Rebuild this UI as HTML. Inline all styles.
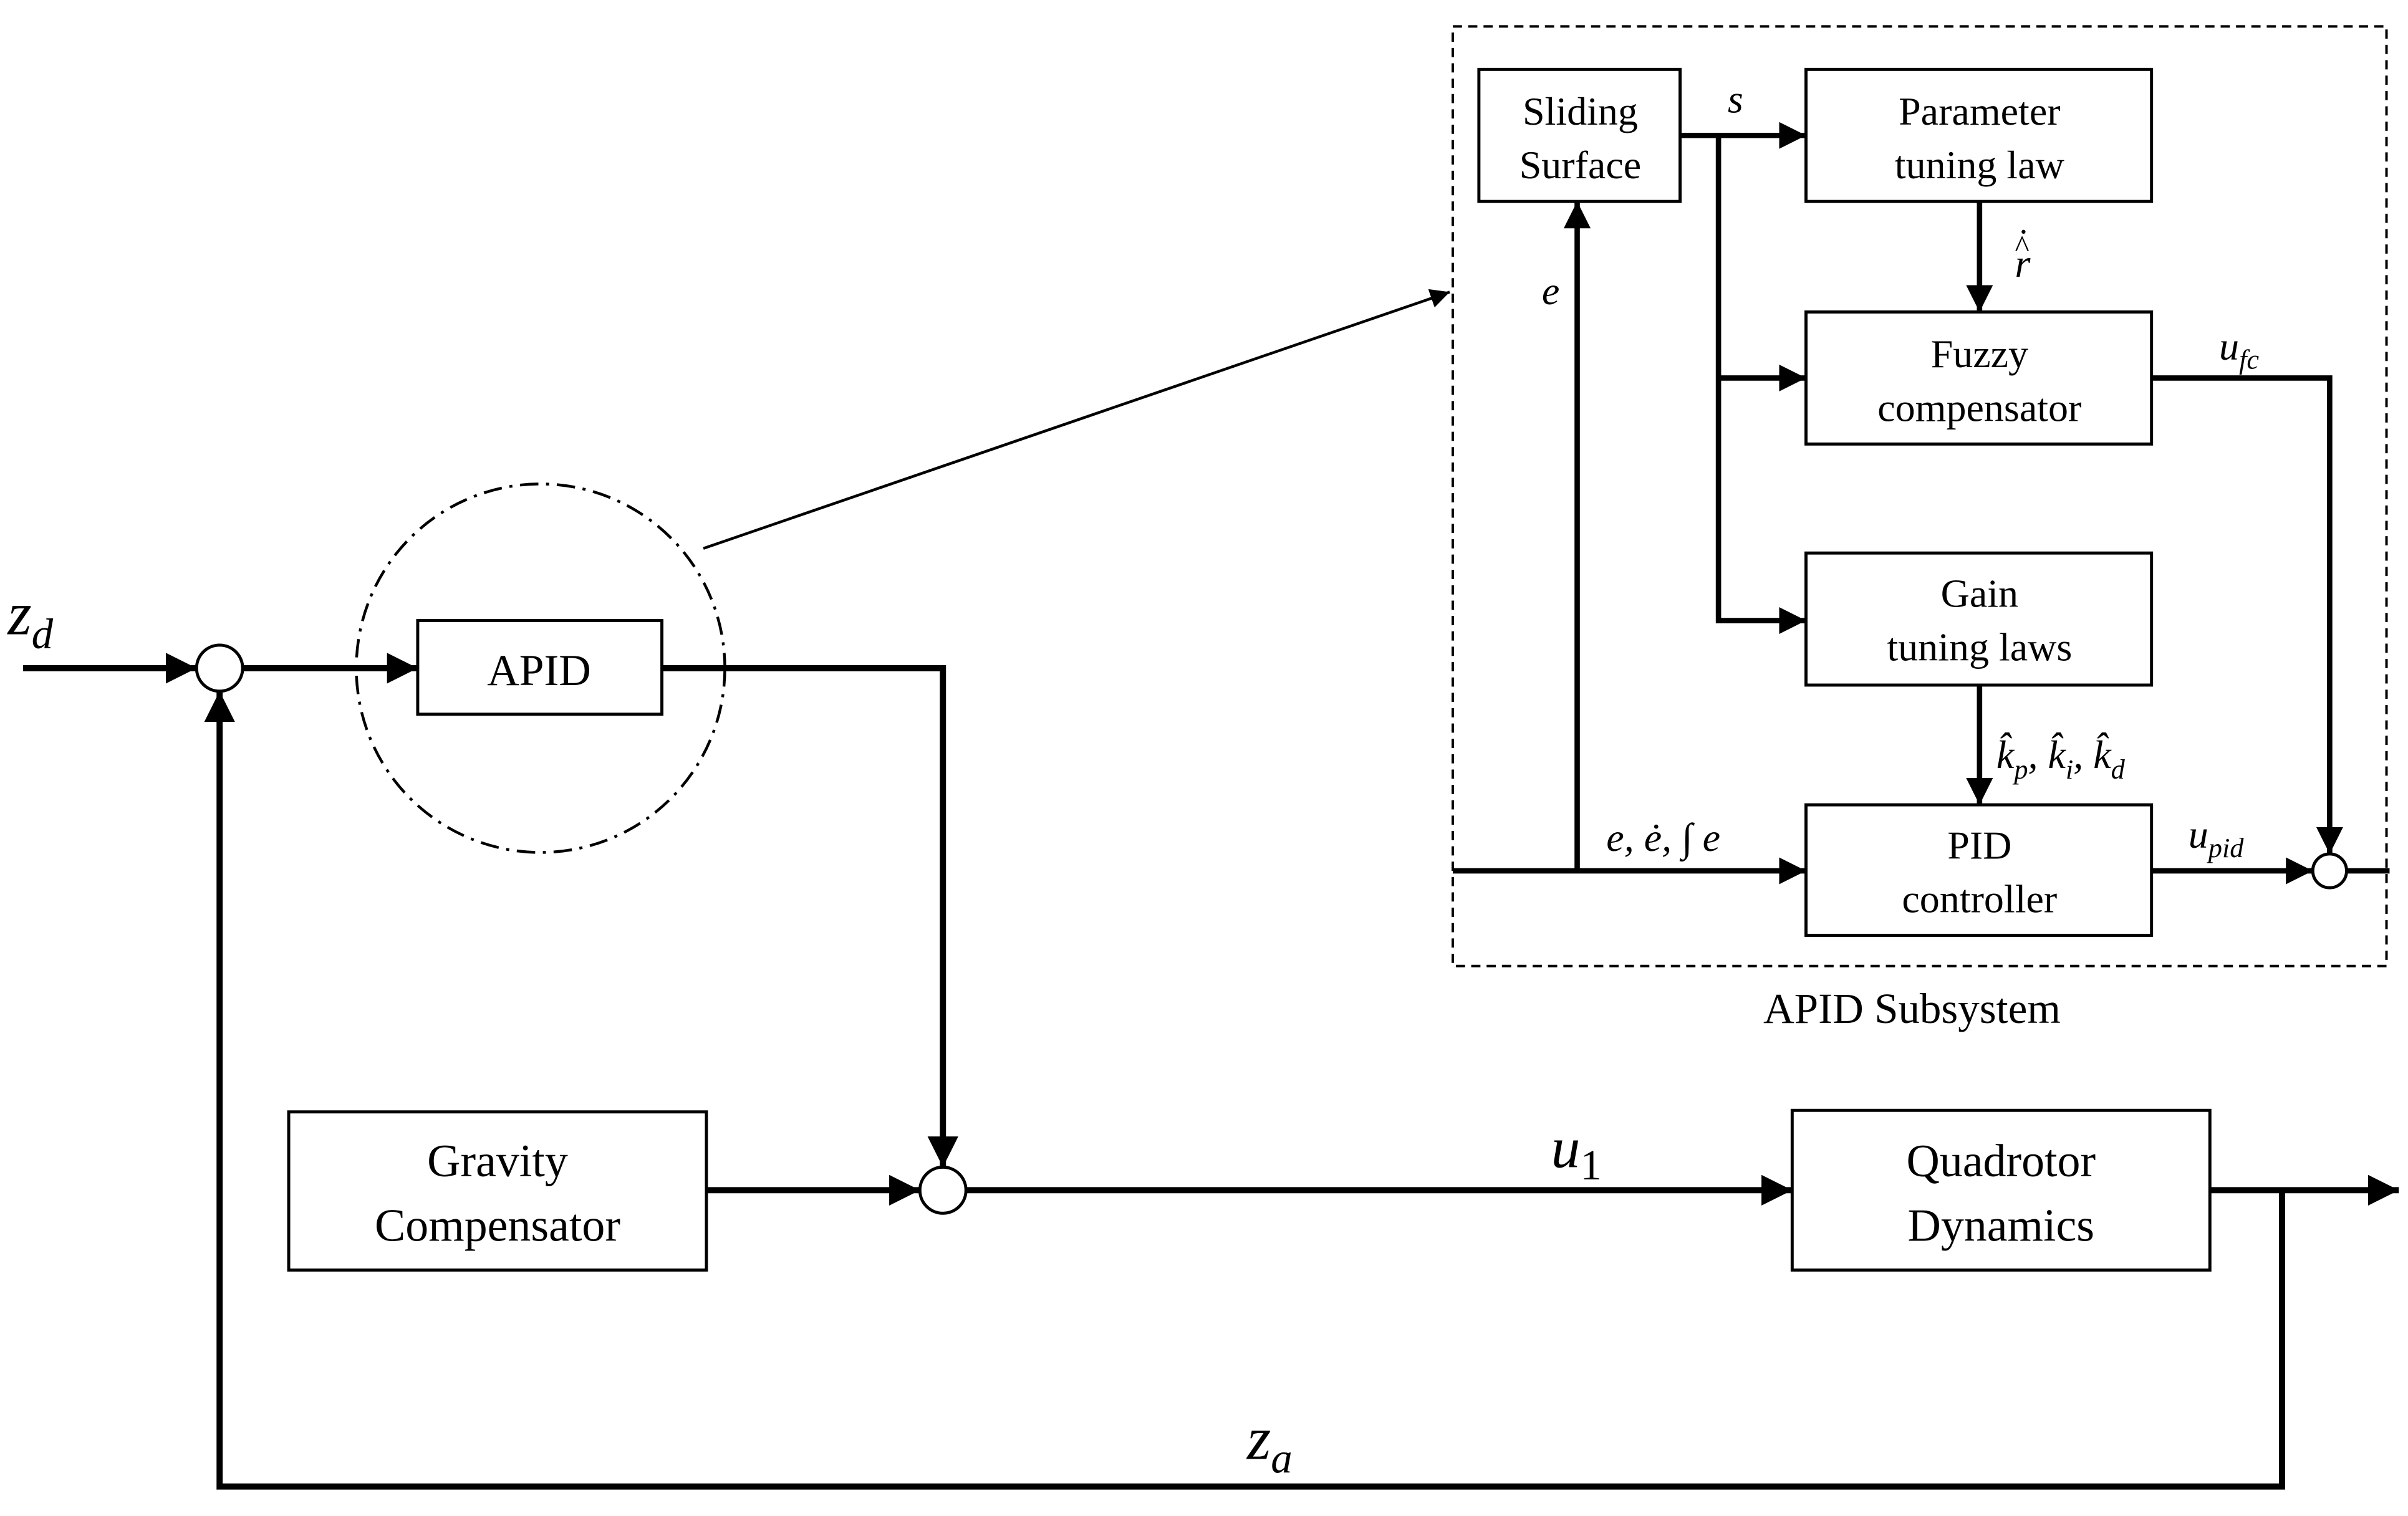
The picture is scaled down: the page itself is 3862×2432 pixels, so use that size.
<!DOCTYPE html>
<html><head><meta charset="utf-8"><style>html,body{margin:0;padding:0;background:#fff}svg{display:block}</style></head><body>
<svg xmlns="http://www.w3.org/2000/svg" width="3862" height="2432" viewBox="0 0 1568 987" font-family="Liberation Serif, serif">
<defs>
<marker id="a" viewBox="0 0 10 10" refX="10" refY="5" markerWidth="5" markerHeight="5" orient="auto" markerUnits="strokeWidth"><path d="M0,0 L10,5 L0,10 z" fill="#000"/></marker>
<marker id="b" viewBox="0 0 10 10" refX="10" refY="5" markerWidth="7" markerHeight="7" orient="auto" markerUnits="strokeWidth"><path d="M0,0 L10,5 L0,10 z" fill="#000"/></marker>
</defs>
<rect width="1568" height="987" fill="#fff"/>
<g fill="none" stroke="#000">
<rect x="946" y="17" width="608" height="612" stroke-width="1.6" stroke-dasharray="6,4"/>
<g stroke-width="2">
<rect x="963" y="45" width="131" height="86"/>
<rect x="1176" y="45" width="225" height="86"/>
<rect x="1176" y="203" width="225" height="86"/>
<rect x="1176" y="360" width="225" height="86"/>
<rect x="1176" y="524" width="225" height="85"/>
<circle cx="1517" cy="567" r="11"/>
</g>
<g stroke-width="3.5">
<line x1="1094" y1="88" x2="1176" y2="88" marker-end="url(#a)"/>
<polyline points="1119,88 1119,404 1176,404" marker-end="url(#a)"/>
<line x1="1119" y1="246" x2="1176" y2="246" marker-end="url(#a)"/>
<line x1="1289" y1="131" x2="1289" y2="203" marker-end="url(#a)"/>
<line x1="1289" y1="446" x2="1289" y2="524" marker-end="url(#a)"/>
<line x1="946" y1="567" x2="1176" y2="567" marker-end="url(#a)"/>
<line x1="1027" y1="567" x2="1027" y2="131" marker-end="url(#a)"/>
<line x1="1401" y1="567" x2="1506" y2="567" marker-end="url(#a)"/>
<polyline points="1401,246 1517,246 1517,556" marker-end="url(#a)"/>
<line x1="1528" y1="567" x2="1556" y2="567"/>
</g>
<g stroke-width="2">
<rect x="272" y="404" width="159" height="61"/>
<rect x="188" y="724" width="272" height="103"/>
<rect x="1167" y="723" width="272" height="104"/>
<circle cx="143" cy="435" r="15"/>
<circle cx="614" cy="775" r="15"/>
</g>
<circle cx="352" cy="435" r="120" stroke-width="1.8" stroke-dasharray="12,5,2,5"/>
<line x1="458" y1="357" x2="944" y2="190" stroke-width="1.8" marker-end="url(#b)"/>
<g stroke-width="4">
<line x1="15" y1="435" x2="128" y2="435" marker-end="url(#a)"/>
<line x1="158" y1="435" x2="272" y2="435" marker-end="url(#a)"/>
<polyline points="431,435 614,435 614,760" marker-end="url(#a)"/>
<line x1="460" y1="775" x2="599" y2="775" marker-end="url(#a)"/>
<line x1="629" y1="775" x2="1167" y2="775" marker-end="url(#a)"/>
<line x1="1439" y1="775" x2="1562" y2="775" marker-end="url(#a)"/>
<polyline points="1486,775 1486,968 143,968 143,450" marker-end="url(#a)"/>
</g>
</g>
<g font-size="26" text-anchor="middle" fill="#000">
<text x="1029" y="81">Sliding</text><text x="1029" y="116">Surface</text>
<text x="1289" y="81">Parameter</text><text x="1289" y="116">tuning law</text>
<text x="1289" y="239">Fuzzy</text><text x="1289" y="274">compensator</text>
<text x="1289" y="395">Gain</text><text x="1289" y="430">tuning laws</text>
<text x="1289" y="559">PID</text><text x="1289" y="594">controller</text>
<text x="1245" y="666" font-size="28">APID Subsystem</text>
<text x="351" y="446" font-size="29">APID</text>
<text x="324" y="766" font-size="30">Gravity</text><text x="324" y="808" font-size="30">Compensator</text>
<text x="1303" y="766" font-size="30">Quadrotor</text><text x="1303" y="808" font-size="30">Dynamics</text>
</g>
<g font-style="italic" fill="#000" font-size="26">
<text x="1125" y="73">s</text>
<text x="1004" y="198">e</text>
<text x="1312" y="180">r</text><text x="1312" y="167" font-size="20" font-style="normal">^</text><text x="1314" y="158" font-size="22" font-style="normal">·</text>
<text x="1445" y="234">u<tspan font-size="18" dy="6">fc</tspan></text>
<text x="1046" y="554">e, ė, ∫ e</text>
<text x="1425" y="552">u<tspan font-size="18" dy="6">pid</tspan></text>
<text x="1300" y="500">k̂<tspan font-size="18" dy="7">p</tspan><tspan dy="-7">, k̂</tspan><tspan font-size="18" dy="7">i</tspan><tspan dy="-7">, k̂</tspan><tspan font-size="18" dy="7">d</tspan></text>
<text x="1010" y="760" font-size="38">u<tspan font-size="28" dy="8" font-style="normal">1</tspan></text>
<text x="5" y="413" font-size="40">z<tspan font-size="28" dy="9">d</tspan></text>
<text x="812" y="950" font-size="40">z<tspan font-size="28" dy="9">a</tspan></text>
</g>
</svg>
</body></html>
